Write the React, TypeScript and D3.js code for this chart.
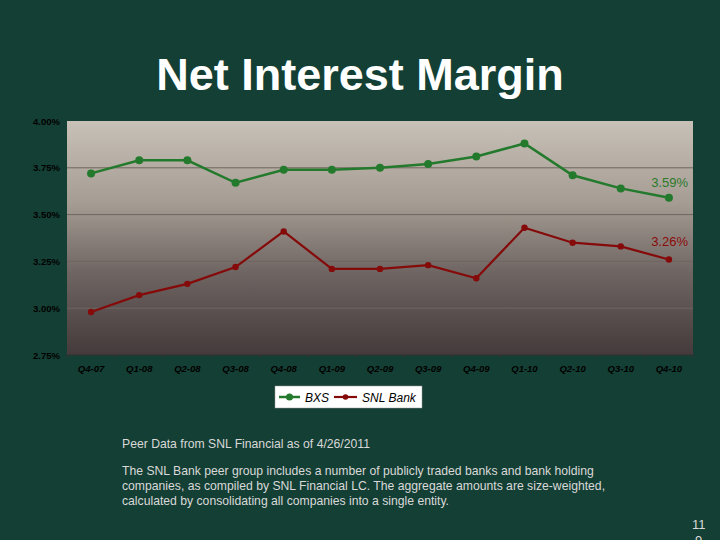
import React from "react";
import * as d3 from "d3";

const categories = ["Q4-07","Q1-08","Q2-08","Q3-08","Q4-08","Q1-09","Q2-09","Q3-09","Q4-09","Q1-10","Q2-10","Q3-10","Q4-10"];
const bxs = [3.72,3.79,3.79,3.67,3.74,3.74,3.75,3.77,3.81,3.88,3.71,3.64,3.59];
const snl = [2.98,3.07,3.13,3.22,3.41,3.21,3.21,3.23,3.16,3.43,3.35,3.33,3.26];
const yTicks = [2.75,3.0,3.25,3.5,3.75,4.0];

export default function App() {
  const W = 720, H = 540;
  const L = 67, R = 693, T = 121, B = 355;
  const x = d3.scaleBand<string>().domain(categories).range([L, R]);
  const y = d3.scaleLinear().domain([2.75, 4.0]).range([B, T]);
  const cx = (c: string) => (x(c) as number) + x.bandwidth() / 2;
  const line = d3.line<number>().x((_, i) => cx(categories[i])).y(d => y(d));
  const green = "#237a2c";
  const red = "#850a0a";
  return (
    <svg width={W} height={H} style={{ position: "absolute", left: 0, top: 0 }} fontFamily="Arial, 'Liberation Sans', sans-serif">
      <defs>
        <linearGradient id="pg" x1="0" y1="0" x2="0" y2="1">
          <stop offset="0" stopColor="#c8c1b8" />
          <stop offset="0.35" stopColor="#a59c93" />
          <stop offset="0.65" stopColor="#6e6462" />
          <stop offset="1" stopColor="#443a3b" />
        </linearGradient>
      </defs>
      <rect x={0} y={0} width={W} height={H} fill="#143f34" />
      <text x={360} y={90} textAnchor="middle" fill="#ffffff" fontSize={45} fontWeight="bold">Net Interest Margin</text>
      <rect x={L} y={T} width={R - L} height={B - T} fill="url(#pg)" />
      {yTicks.slice(1, -1).map(t => (
        <line key={t} x1={L} x2={R} y1={y(t)} y2={y(t)} stroke="#6f6560" strokeWidth={1} />
      ))}
      {yTicks.map(t => (
        <text key={t} x={60} y={y(t) + 3.5} textAnchor="end" fontSize={9.5} fontWeight="bold" fill="#000">{t.toFixed(2)}%</text>
      ))}
      <line x1={L} x2={R} y1={B} y2={B} stroke="#333" strokeWidth={1} />
      {categories.map((c) => (
        <line key={"t" + c} x1={(x(c) as number)} x2={(x(c) as number)} y1={B} y2={B + 3} stroke="#333" />
      ))}
      <line x1={R} x2={R} y1={B} y2={B + 3} stroke="#333" />
      {categories.map(c => (
        <text key={c} x={cx(c)} y={372} textAnchor="middle" fontSize={9.5} fontWeight="bold" fontStyle="italic" fill="#000">{c}</text>
      ))}
      <path d={line(bxs) as string} fill="none" stroke={green} strokeWidth={2.5} />
      {bxs.map((v, i) => <circle key={"b" + i} cx={cx(categories[i])} cy={y(v)} r={4} fill={green} />)}
      <path d={line(snl) as string} fill="none" stroke={red} strokeWidth={2.2} />
      {snl.map((v, i) => <circle key={"s" + i} cx={cx(categories[i])} cy={y(v)} r={3.2} fill={red} />)}
      <text x={688} y={y(bxs[12]) - 11} textAnchor="end" fontSize={13} fill="#2a7a2a">3.59%</text>
      <text x={688} y={y(snl[12]) - 14} textAnchor="end" fontSize={13} fill="#8b0a0a">3.26%</text>
      <rect x={275} y={386} width={147} height={22} fill="#fff" stroke="#999" strokeWidth={0.5} />
      <line x1={279} x2={300} y1={397} y2={397} stroke={green} strokeWidth={2.5} />
      <circle cx={289.5} cy={397} r={3.5} fill={green} />
      <text x={305} y={401.5} fontSize={12} fontStyle="italic" fill="#000">BXS</text>
      <line x1={334} x2={357} y1={397} y2={397} stroke={red} strokeWidth={2.2} />
      <circle cx={345.5} cy={397} r={2.8} fill={red} />
      <text x={362} y={401.5} fontSize={12} fontStyle="italic" fill="#000">SNL Bank</text>
      <g fontSize={12.2} fill="#d9d9d9">
        <text x={122} y={448}>Peer Data from SNL Financial as of 4/26/2011</text>
        <text x={122} y={475}>The SNL Bank peer group includes a number of publicly traded banks and bank holding</text>
        <text x={122} y={490}>companies, as compiled by SNL Financial LC.  The aggregate amounts are size-weighted,</text>
        <text x={122} y={505}>calculated by consolidating all companies into a single entity.</text>
      </g>
      <text x={692} y={529} fontSize={13} fill="#d9d9d9">11</text>
      <text x={695} y={545} fontSize={13} fill="#d9d9d9">9</text>
    </svg>
  );
}
